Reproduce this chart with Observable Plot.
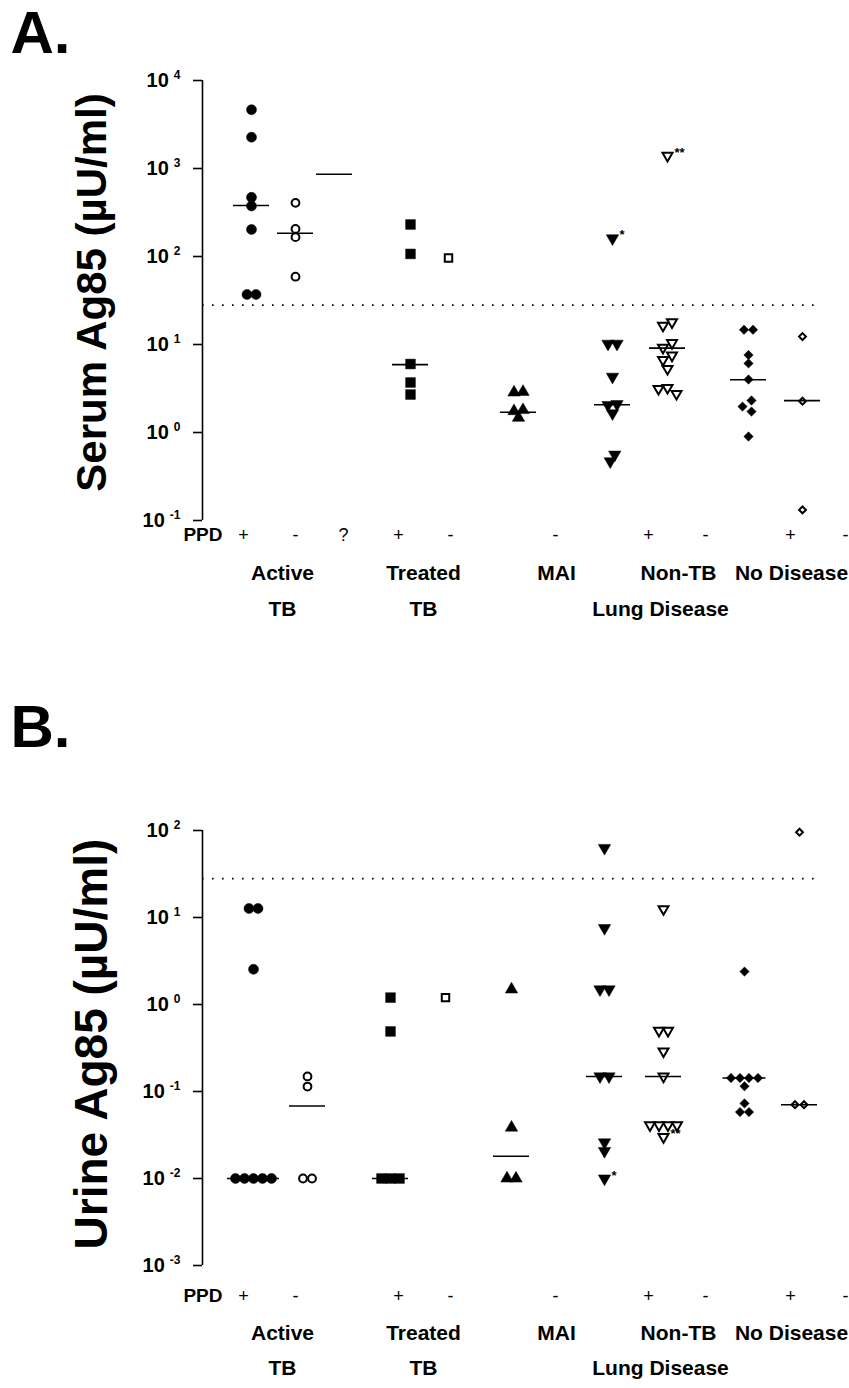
<!DOCTYPE html>
<html><head><meta charset="utf-8">
<script src="https://cdn.jsdelivr.net/npm/d3@7"></script>
<script src="https://cdn.jsdelivr.net/npm/@observablehq/plot@0.6"></script>
<style>
body{margin:0;background:#fff;}
#chart{width:849px;}
#chart svg{display:block;}
</style></head><body><div id="chart"></div>
<script>
// ---------- DATA ----------
const groupKeysA = ["activePos","activeNeg","activeUnk","treatedPos","treatedNeg","maiNeg","nonTBPos","nonTBNeg","noDisPos","noDisNeg"];
const groupKeysB = ["activePos","activeNeg","treatedPos","treatedNeg","maiNeg","nonTBPos","nonTBNeg","noDisPos","noDisNeg"];

// Panel A: serum Ag85 (µU/ml)
const serumActivePos  = [4650, 2270, 470, 375, 203, 37, 37];
const serumActiveNeg  = [407, 206, 166, 59];
const serumActiveUnk  = [];
const serumTreatedPos = [231, 107, 6.0, 3.7, 2.7];
const serumTreatedNeg = [96];
const serumMAINeg     = [2.9, 2.85, 1.8, 1.75, 1.47];
const serumNonTBPos   = [161, 10.2, 10.2, 4.3, 2.1, 2.05, 1.65, 0.56, 0.47];
const serumNonTBNeg   = [1400, 17.9, 16.4, 10.4, 9.2, 7.5, 6.7, 5.3, 3.22, 3.14, 2.75];
const serumNoDisPos   = [14.7, 14.7, 7.6, 6.1, 4.0, 2.31, 1.97, 1.73, 0.9];
const serumNoDisNeg   = [12.3, 2.27, 0.132];
const serumMedians    = {activePos: 380, activeNeg: 184, activeUnk: 860, treatedPos: 5.9, maiNeg: 1.7, nonTBPos: 2.07, nonTBNeg: 9.1, noDisPos: 3.97, noDisNeg: 2.3};
const serumNotes      = [{group: "nonTBPos", value: 161, text: "*"}, {group: "nonTBNeg", value: 1400, text: "**"}];

// Panel B: urine Ag85 (µU/ml)
const urineActivePos  = [12.7, 12.7, 2.54, 0.01, 0.01, 0.01, 0.01, 0.01];
const urineActiveNeg  = [0.149, 0.114, 0.01, 0.01];
const urineTreatedPos = [1.2, 0.49, 0.01, 0.01, 0.01];
const urineTreatedNeg = [1.2];
const urineMAINeg     = [1.49, 0.0385, 0.01, 0.01];
const urineNonTBPos   = [63, 7.55, 1.49, 1.49, 0.149, 0.149, 0.026, 0.0207, 0.01];
const urineNonTBNeg   = [12.5, 0.5, 0.5, 0.29, 0.149, 0.041, 0.041, 0.041, 0.041, 0.030];
const urineNoDisPos   = [2.39, 0.143, 0.143, 0.143, 0.143, 0.115, 0.073, 0.058, 0.058];
const urineNoDisNeg   = [95.6, 0.0705, 0.0705];
const urineMedians    = {activePos: 0.01, activeNeg: 0.068, treatedPos: 0.01, maiNeg: 0.018, nonTBPos: 0.149, nonTBNeg: 0.149, noDisPos: 0.143, noDisNeg: 0.0705};
const urineNotes      = [{group: "nonTBPos", value: 0.01, text: "*"}, {group: "nonTBNeg", value: 0.030, text: "**"}];

const cutoff = 28;
const serumTicks = [0.1, 1, 10, 100, 1000, 10000];
const urineTicks = [0.001, 0.01, 0.1, 1, 10, 100];
const ppdA = ["+", "-", "?", "+", "-", "-", "+", "-", "+", "-"];
const ppdB = ["+", "-", "+", "-", "-", "+", "-", "+", "-"];
const groupLine1 = ["Active", "Treated", "MAI", "Non-TB", "No Disease"];
const groupLine2 = ["TB", "TB", "Lung Disease"];

// ---------- LAYOUT / STYLE ----------
const W = 849, H = 694, ML = 202, MR = 32;
const colA = {activePos: 49, activeNeg: 93, activeUnk: 132, treatedPos: 208, treatedNeg: 246, maiNeg: 316, nonTBPos: 410, nonTBNeg: 465, noDisPos: 546, noDisNeg: 600};
const colB = {activePos: 51, activeNeg: 105, treatedPos: 188, treatedNeg: 243, maiNeg: 309, nonTBPos: 402, nonTBNeg: 461, noDisPos: 542, noDisNeg: 597};
const ppdPosA = [41, 93, 141, 196, 248, 353, 446, 503, 588, 643];
const ppdPosB = [41, 93, 196, 248, 353, 446, 503, 588, 643];
const line1Pos = [80, 221, 354, 476, 589];
const line2Pos = [80, 221, 458];

const triDown = {draw(ctx, size) {
  const y = -Math.sqrt(size / (Math.sqrt(3) * 3));
  ctx.moveTo(0, -y * 2); ctx.lineTo(-Math.sqrt(3) * y, y); ctx.lineTo(Math.sqrt(3) * y, y); ctx.closePath();
}};
const style = {
  activePos:  {symbol: "circle", filled: true, r: 5},
  activeNeg:  {symbol: "circle", filled: false, r: 3.9},
  activeUnk:  {symbol: "circle", filled: true, r: 5},
  treatedPos: {symbol: "square", filled: true, r: 5.5},
  treatedNeg: {symbol: "square", filled: false, r: 4.2},
  maiNeg:     {symbol: "triangle", filled: true, r: 4.6},
  nonTBPos:   {symbol: triDown, filled: true, r: 4.6},
  nonTBNeg:   {symbol: triDown, filled: false, r: 3.7},
  noDisPos:   {symbol: "diamond2", filled: true, r: 4.2},
  noDisNeg:   {symbol: "diamond2", filled: false, r: 3.1}
};
const FONT = "'Liberation Sans', Arial, Helvetica, sans-serif";

// beeswarm-like offsets for overlapping points (computed in pixel space)
function swarm(values, ypx, minDist = 8, step = 4.5) {
  const offs = values.map(() => 0);
  if (!values.length) return offs;
  const idx = values.map((v, i) => i).sort((a, b) => values[b] - values[a]);
  const placed = [];
  for (const i of idx) {
    const y = ypx(values[i]);
    for (let k = 0; k < 40; k++) {
      const c = k === 0 ? 0 : (k % 2 ? -1 : 1) * Math.ceil(k / 2) * step;
      if (placed.every(p => Math.hypot(p.x - c, p.y - y) >= minDist)) { offs[i] = c; placed.push({x: c, y}); break; }
    }
  }
  const clusters = []; let cur = [idx[0]];
  for (let j = 1; j < idx.length; j++) {
    if (Math.abs(ypx(values[idx[j]]) - ypx(values[idx[j - 1]])) < minDist) cur.push(idx[j]);
    else { clusters.push(cur); cur = [idx[j]]; }
  }
  clusters.push(cur);
  for (const c of clusters) { const m = d3.mean(c, i => offs[i]); c.forEach(i => offs[i] -= m); }
  return offs;
}

function panel(cfg) {
  const top = cfg.marginTop, bottom = H - cfg.marginBottom;
  const ypx = d3.scaleLog().domain(cfg.domain).range([bottom, top]);
  const marks = [];
  marks.push(Plot.ruleX([0], {stroke: "#000", strokeWidth: 1.6}));
  marks.push(Plot.ruleY([cutoff], {stroke: "#000", strokeWidth: 1.8, strokeDasharray: "1.6 8.4"}));
  const allPts = {};
  for (const g of cfg.keys) {
    const vals = cfg.data[g];
    const offs = swarm(vals, ypx);
    const pts = vals.map((v, i) => ({value: v, x: cfg.col[g] + offs[i], off: offs[i]}));
    allPts[g] = pts;
    const s = style[g];
    if (pts.length) marks.push(Plot.dot(pts, {
      x: "x", y: "value", symbol: s.symbol, r: s.r,
      fill: s.filled ? "#000" : "#fff", stroke: "#000", strokeWidth: s.filled ? 0.5 : 2
    }));
  }
  const med = Object.entries(cfg.medians).map(([g, v]) => {
    const near = (allPts[g] || []).filter(p => Math.abs(ypx(p.value) - ypx(v)) < 4);
    const hw = Math.max(18, (d3.max(near, p => Math.abs(p.off)) ?? 0) + 8);
    return {g, v, x1: cfg.col[g] - hw, x2: cfg.col[g] + hw};
  });
  marks.push(Plot.ruleY(med, {y: "v", x1: "x1", x2: "x2", stroke: "#000", strokeWidth: 1.6}));
  marks.push(Plot.text(cfg.notes, {x: d => cfg.col[d.group], y: "value", text: "text", dx: 7, dy: -3,
    textAnchor: "start", fontSize: 13, fontWeight: "bold"}));
  marks.push(Plot.text([cfg.letter], {frameAnchor: "top-left", dx: -192, dy: 10 - top, textAnchor: "start",
    lineAnchor: "top", fontSize: 60, fontWeight: "bold"}));
  marks.push(Plot.text([cfg.title], {frameAnchor: "left", dx: -110, dy: cfg.titleDy, rotate: -90,
    textAnchor: "middle", fontSize: cfg.titleSize, fontWeight: "bold"}));
  marks.push(Plot.text(["PPD"], {frameAnchor: "bottom-left", dx: 20, dy: cfg.ppdDy, textAnchor: "end",
    fontSize: 19, fontWeight: "bold"}));
  marks.push(Plot.text(cfg.ppd.map((t, i) => ({t, x: cfg.ppdPos[i]})), {x: "x", text: "t",
    frameAnchor: "bottom", dy: cfg.ppdDy, fontSize: 18, fontWeight: "normal"}));
  marks.push(Plot.text(groupLine1.map((t, i) => ({t, x: line1Pos[i]})), {x: "x", text: "t",
    frameAnchor: "bottom", dy: cfg.l1Dy, fontSize: 21, fontWeight: "bold"}));
  marks.push(Plot.text(groupLine2.map((t, i) => ({t, x: line2Pos[i]})), {x: "x", text: "t",
    frameAnchor: "bottom", dy: cfg.l2Dy, fontSize: 21, fontWeight: "bold"}));

  const svg = Plot.plot({
    width: W, height: H, marginLeft: ML, marginRight: MR, marginTop: top, marginBottom: cfg.marginBottom,
    style: {fontFamily: FONT, fontSize: "15px", fontWeight: "bold", color: "#000", background: "#fff", overflow: "visible"},
    x: {type: "linear", domain: [0, W - ML - MR], axis: null},
    y: {type: "log", domain: cfg.domain, ticks: cfg.ticks, tickSize: 9, tickPadding: 13,
        tickFormat: d => "10^" + Math.round(Math.log10(d)), label: null},
    marks
  });
  // superscript exponents on tick labels
  d3.select(svg).selectAll("text").each(function () {
    const m = /^10\^(-?\d+)$/.exec(this.textContent);
    if (!m) return;
    const el = d3.select(this); el.text(null).attr("font-size", 20);
    el.append("tspan").text("10");
    el.append("tspan").attr("dx", 5).attr("dy", -8).attr("font-size", 12).text(m[1]);
  });
  d3.select(svg).selectAll('[aria-label="y-axis tick"]').attr("stroke-width", 1.6);
  return svg;
}

const chart = document.getElementById("chart");
chart.appendChild(panel({
  letter: "A.", title: "Serum Ag85 (µU/ml)", titleDy: -8, titleSize: 42,
  keys: groupKeysA, col: colA, domain: [0.1, 10000], ticks: serumTicks,
  marginTop: 80, marginBottom: 174,
  data: {activePos: serumActivePos, activeNeg: serumActiveNeg, activeUnk: serumActiveUnk, treatedPos: serumTreatedPos,
         treatedNeg: serumTreatedNeg, maiNeg: serumMAINeg, nonTBPos: serumNonTBPos, nonTBNeg: serumNonTBNeg,
         noDisPos: serumNoDisPos, noDisNeg: serumNoDisNeg},
  medians: serumMedians, notes: serumNotes, ppd: ppdA, ppdPos: ppdPosA,
  ppdDy: 20, l1Dy: 59, l2Dy: 95
}));
chart.appendChild(panel({
  letter: "B.", title: "Urine Ag85 (µU/ml)", titleDy: -4, titleSize: 46,
  keys: groupKeysB, col: colB, domain: [0.001, 100], ticks: urineTicks,
  marginTop: 136, marginBottom: 123,
  data: {activePos: urineActivePos, activeNeg: urineActiveNeg, treatedPos: urineTreatedPos, treatedNeg: urineTreatedNeg,
         maiNeg: urineMAINeg, nonTBPos: urineNonTBPos, nonTBNeg: urineNonTBNeg, noDisPos: urineNoDisPos, noDisNeg: urineNoDisNeg},
  medians: urineMedians, notes: urineNotes, ppd: ppdB, ppdPos: ppdPosB,
  ppdDy: 36, l1Dy: 74, l2Dy: 109
}));
</script></body></html>
